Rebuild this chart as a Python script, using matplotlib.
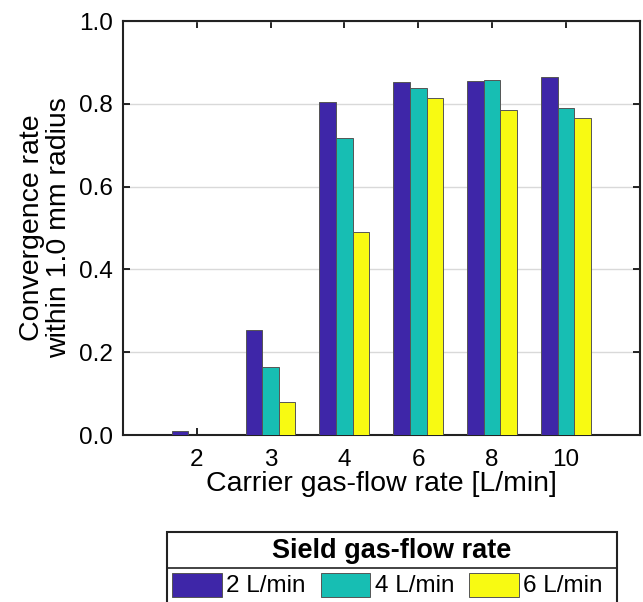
import numpy as np
import matplotlib.pyplot as plt
from matplotlib.patches import Rectangle
from matplotlib.lines import Line2D

plt.rcParams['font.family'] = ['Liberation Sans', 'DejaVu Sans']

categories = ['2', '3', '4', '6', '8', '10']
series_names = ['2 L/min', '4 L/min', '6 L/min']
shield_2 = [0.010, 0.253, 0.805, 0.853, 0.856, 0.865]
shield_4 = [0.0, 0.164, 0.717, 0.839, 0.857, 0.791]
shield_6 = [0.0, 0.080, 0.490, 0.813, 0.784, 0.765]
colors = ['#3E26A8', '#17BEB3', '#F8FA12']

fig = plt.figure(figsize=(6.43, 6.02), dpi=100)
ax = fig.add_axes([0.191, 0.2774, 0.804, 0.6877])

x = np.arange(1, len(categories) + 1)
w = 0.225
for i, vals in enumerate([shield_2, shield_4, shield_6]):
    ax.bar(x + (i - 1) * w, vals, w, color=colors[i], edgecolor='#555555',
           linewidth=0.7, zorder=3)

ax.set_xlim(0, 7)
ax.set_ylim(0, 1)
ax.set_xticks(x)
ax.set_xticklabels(categories)
ax.set_yticks(np.arange(0, 1.01, 0.2))
ax.set_yticklabels(['%.1f' % v for v in np.arange(0, 1.01, 0.2)])
ax.yaxis.grid(True, color='#d9d9d9', linewidth=1.0, zorder=0)
ax.tick_params(direction='in', top=True, right=True, labelsize=17.5, length=5,
               width=1.2)
ax.tick_params(axis='x', pad=10)
ax.tick_params(axis='y', pad=7)
for s in ax.spines.values():
    s.set_linewidth(1.5)
    s.set_color('#222222')
ax.set_xlabel('Carrier gas-flow rate [L/min]', fontsize=20.5, labelpad=0)
ax.set_ylabel('Convergence rate\nwithin 1.0 mm radius', fontsize=20.5, labelpad=5,
              linespacing=1.05)

# legend box drawn in figure pixel coordinates
W, H = 643, 602
def fx(px):
    return px / W
def fy(py):
    return 1 - py / H

fig.patches.append(Rectangle((fx(166.7), fy(610)), fx(616.7) - fx(166.7),
                             fy(531.7) - fy(610), transform=fig.transFigure,
                             facecolor='white', edgecolor='#222222', linewidth=1.5))
fig.lines.append(Line2D([fx(166.7), fx(616.7)], [fy(567.7), fy(567.7)],
                        transform=fig.transFigure, color='#222222', linewidth=1.2))
fig.text(fx(391.7), fy(551.5), 'Sield gas-flow rate', ha='center', va='center',
         fontsize=19.5, fontweight='bold')
sw_left = [172.3, 320.7, 469.3]
for i, name in enumerate(series_names):
    fig.patches.append(Rectangle((fx(sw_left[i]), fy(597.3)), fx(49.4), fy(573.3) - fy(597.3),
                                 transform=fig.transFigure, facecolor=colors[i],
                                 edgecolor='#555555', linewidth=0.7))
    fig.text(fx(sw_left[i] + 54), fy(586.5), name, ha='left', va='center', fontsize=17.5)

fig.savefig('out.png', dpi=100)
